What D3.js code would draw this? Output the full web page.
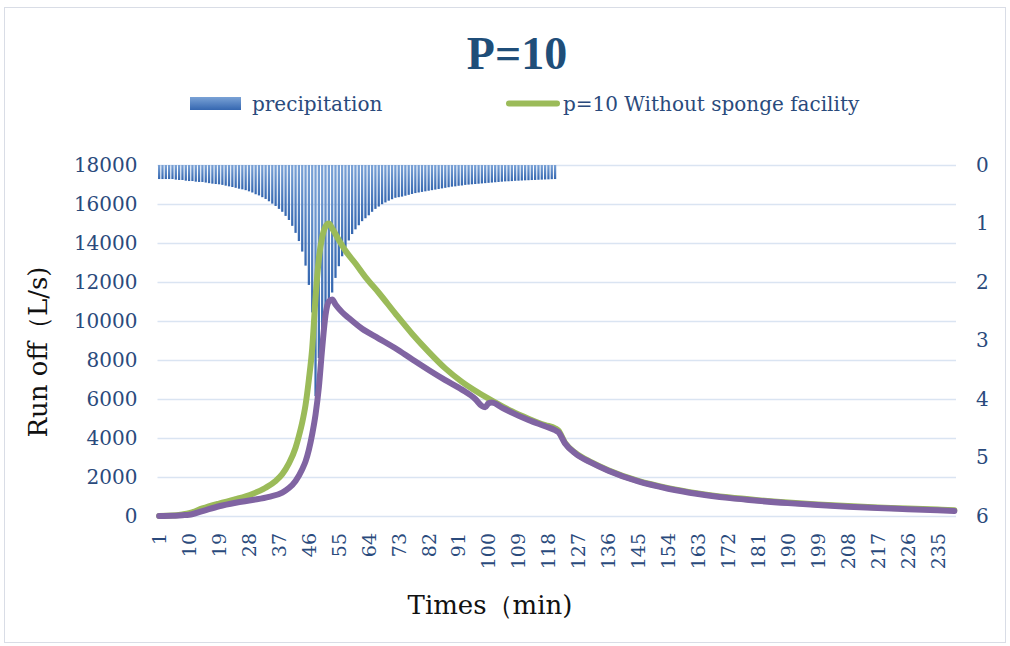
<!DOCTYPE html>
<html>
<head>
<meta charset="utf-8">
<script src="https://cdn.jsdelivr.net/npm/d3@7"></script>
<style>
  html, body { margin: 0; padding: 0; background: #fff; }
  svg text { font-family: "DejaVu Serif", serif; }
</style>
</head>
<body>
<div id="chart"></div>
<script>
// P=10 runoff chart, rebuilt with D3

// ---------- Data ----------
const minutes = d3.range(1, 241);                 // category axis: minute 1..240
const xTickLabels = d3.range(1, 241, 9);          // 1, 10, 19 ... 235
const leftTicks = [0, 2000, 4000, 6000, 8000, 10000, 12000, 14000, 16000, 18000];
const rightTicks = [0, 1, 2, 3, 4, 5, 6];

// precipitation per minute, minutes 1..120 (right axis, inverted)
const precipitation = [
  0.24, 0.24, 0.24, 0.24, 0.24, 0.25, 0.256, 0.256, 0.268, 0.274,
  0.274, 0.285, 0.29, 0.29, 0.30, 0.31, 0.319, 0.325, 0.33, 0.34,
  0.353, 0.365, 0.376, 0.39, 0.405, 0.416, 0.43, 0.45, 0.47, 0.50,
  0.52, 0.55, 0.58, 0.62, 0.66, 0.70, 0.75, 0.80, 0.87, 0.94,
  1.04, 1.16, 1.30, 1.48, 1.72, 2.05, 2.52, 3.95, 3.3, 2.8,
  2.5, 2.3, 2.18, 1.93, 1.73, 1.56, 1.40, 1.29, 1.18, 1.10,
  1.03, 0.96, 0.91, 0.86, 0.80, 0.75, 0.71, 0.67, 0.64, 0.61,
  0.585, 0.56, 0.55, 0.54, 0.525, 0.51, 0.495, 0.48, 0.47, 0.46,
  0.45, 0.44, 0.43, 0.42, 0.41, 0.40, 0.39, 0.38, 0.37, 0.365,
  0.355, 0.35, 0.34, 0.335, 0.33, 0.325, 0.32, 0.315, 0.31, 0.305,
  0.30, 0.295, 0.29, 0.285, 0.28, 0.278, 0.275, 0.27, 0.268, 0.265,
  0.262, 0.26, 0.257, 0.255, 0.252, 0.25, 0.247, 0.245, 0.242, 0.24
];

// p=10 without sponge facility (green), read at selected minutes
const greenMinutes = [1, 5, 8, 10, 14, 19, 24, 29, 33, 36, 38, 40, 42, 43, 44, 45, 46, 47, 48, 49,
  50, 51, 52, 53, 55, 57, 60, 63, 67, 72, 77, 82, 87, 92, 97, 102, 107, 112, 117, 120,
  121, 123, 126, 131, 136, 145, 154, 163, 172, 181, 190, 199, 208, 217, 226, 235, 240];
const greenValues = [0, 20, 80, 140, 390, 640, 860, 1130, 1450, 1800, 2150, 2700, 3500, 4100, 4800, 5700, 7000, 8600, 11200, 13200,
  14300, 14850, 15000, 14750, 14150, 13600, 12950, 12250, 11450, 10380, 9350, 8420, 7570, 6880, 6320, 5830, 5370, 4990, 4660, 4500,
  4380, 3750, 3250, 2750, 2350, 1800, 1430, 1160, 960, 810, 690, 590, 510, 440, 385, 330, 300];

// second runoff series (purple), read at selected minutes
const purpleMinutes = [1, 5, 8, 10, 14, 19, 24, 29, 34, 38, 40, 42, 44, 45, 46, 47, 48, 49, 50, 51,
  52, 53, 54, 56, 58, 62, 67, 72, 77, 82, 87, 92, 96, 98, 99, 100, 101, 104, 107, 112,
  117, 120, 121, 123, 126, 131, 136, 145, 154, 163, 172, 181, 190, 199, 208, 217, 226, 235, 240];
const purpleValues = [0, 10, 40, 60, 250, 500, 680, 820, 980, 1200, 1430, 1800, 2400, 2800, 3400, 4200, 5200, 6600, 8600, 10300,
  11000, 11100, 10850, 10450, 10150, 9600, 9100, 8600, 8040, 7490, 6970, 6480, 6000, 5640, 5580, 5780, 5820, 5560, 5300, 4920,
  4600, 4400, 4300, 3720, 3220, 2720, 2320, 1770, 1400, 1130, 930, 780, 660, 560, 480, 410, 350, 290, 260];

// ---------- Layout ----------
const width = 1010;
const height = 646;
const plot = { left: 157.5, right: 956, top: 165, bottom: 516 };

const navy = '#2a4a7c';
const gridColor = '#dae4f2';
const green = '#9bbb59';
const purple = '#8064a2';

const svg = d3.select('#chart').append('svg')
  .attr('width', width)
  .attr('height', height);

// gradient used by the precipitation bars
const defs = svg.append('defs');
const grad = defs.append('linearGradient')
  .attr('id', 'barGrad')
  .attr('x1', 0).attr('y1', 0).attr('x2', 0).attr('y2', 1);
grad.append('stop').attr('offset', '0%').attr('stop-color', '#7aa2d6');
grad.append('stop').attr('offset', '100%').attr('stop-color', '#3567b0');

// outer chart border
svg.append('rect')
  .attr('x', 4.5).attr('y', 7.5)
  .attr('width', 1001).attr('height', 635)
  .attr('fill', 'none')
  .attr('stroke', '#d9dde6')
  .attr('stroke-width', 1);

// ---------- Scales ----------
const x = d3.scaleBand()
  .domain(minutes)
  .range([plot.left, plot.right])
  .padding(0);
const cx = m => x(m) + x.bandwidth() / 2;

const y = d3.scaleLinear().domain([0, 18000]).range([plot.bottom, plot.top]);
const y2 = d3.scaleLinear().domain([0, 6]).range([plot.top, plot.bottom]);

// ---------- Grid + axes ----------
const gridAxis = svg.append('g')
  .attr('transform', `translate(${plot.left},0)`)
  .call(d3.axisLeft(y).tickValues(leftTicks).tickSize(-(plot.right - plot.left)).tickFormat(''));
gridAxis.select('.domain').remove();
gridAxis.selectAll('.tick line').attr('stroke', gridColor).attr('stroke-width', 1.6);

const leftAxis = svg.append('g')
  .attr('transform', `translate(${plot.left - 20},0)`)
  .call(d3.axisLeft(y).tickValues(leftTicks).tickSize(0).tickPadding(0).tickFormat(d3.format('d')));
leftAxis.select('.domain').remove();
leftAxis.selectAll('text')
  .attr('fill', navy)
  .style('font-size', '20px');

const rightAxis = svg.append('g')
  .attr('transform', `translate(${plot.right + 20},0)`)
  .call(d3.axisRight(y2).tickValues(rightTicks).tickSize(0).tickPadding(0).tickFormat(d3.format('d')));
rightAxis.select('.domain').remove();
rightAxis.selectAll('text')
  .attr('fill', navy)
  .style('font-size', '20px');

// x tick labels, rotated
svg.append('g').selectAll('text')
  .data(xTickLabels)
  .join('text')
  .attr('transform', d => `translate(${cx(d)},${plot.bottom + 17}) rotate(-90)`)
  .attr('text-anchor', 'end')
  .attr('dy', '0.36em')
  .attr('fill', navy)
  .style('font-size', '19px')
  .text(d => d);

// ---------- Precipitation bars ----------
const barW = x.bandwidth() * 0.68;
svg.append('g').selectAll('rect')
  .data(precipitation)
  .join('rect')
  .attr('x', (d, i) => cx(i + 1) - barW / 2)
  .attr('y', y2(0))
  .attr('width', barW)
  .attr('height', d => y2(d) - y2(0))
  .attr('fill', 'url(#barGrad)');

// ---------- Lines ----------
const line = d3.line()
  .x(d => cx(d[0]))
  .y(d => y(d[1]))
  .curve(d3.curveMonotoneX);

svg.append('path')
  .datum(d3.zip(greenMinutes, greenValues))
  .attr('d', line)
  .attr('fill', 'none')
  .attr('stroke', green)
  .attr('stroke-width', 6)
  .attr('stroke-linecap', 'round')
  .attr('stroke-linejoin', 'round');

svg.append('path')
  .datum(d3.zip(purpleMinutes, purpleValues))
  .attr('d', line)
  .attr('fill', 'none')
  .attr('stroke', purple)
  .attr('stroke-width', 6)
  .attr('stroke-linecap', 'round')
  .attr('stroke-linejoin', 'round');

// ---------- Title, legend, axis titles ----------
svg.append('text')
  .attr('x', 517).attr('y', 69)
  .attr('text-anchor', 'middle')
  .attr('fill', '#1f4e79')
  .style('font-family', '"Liberation Serif", serif')
  .style('font-weight', 'bold')
  .style('font-size', '46px')
  .text('P=10');

const legend = svg.append('g');
legend.append('rect')
  .attr('x', 190).attr('y', 97)
  .attr('width', 51).attr('height', 13)
  .attr('fill', 'url(#barGrad)');
legend.append('text')
  .attr('x', 252).attr('y', 111)
  .attr('fill', navy)
  .style('font-size', '20px')
  .text('precipitation');
legend.append('line')
  .attr('x1', 509).attr('x2', 557)
  .attr('y1', 103.5).attr('y2', 103.5)
  .attr('stroke', green)
  .attr('stroke-width', 6)
  .attr('stroke-linecap', 'round');
legend.append('text')
  .attr('x', 563).attr('y', 111)
  .attr('fill', navy)
  .style('font-size', '20px')
  .text('p=10 Without sponge facility');

svg.append('text')
  .attr('transform', `translate(47,352) rotate(-90)`)
  .attr('text-anchor', 'middle')
  .attr('fill', '#111')
  .style('font-size', '26px')
  .text('Run off（L/s)');

svg.append('text')
  .attr('x', 490).attr('y', 614)
  .attr('text-anchor', 'middle')
  .attr('fill', '#111')
  .style('font-size', '26px')
  .text('Times（min)');
</script>
</body>
</html>
